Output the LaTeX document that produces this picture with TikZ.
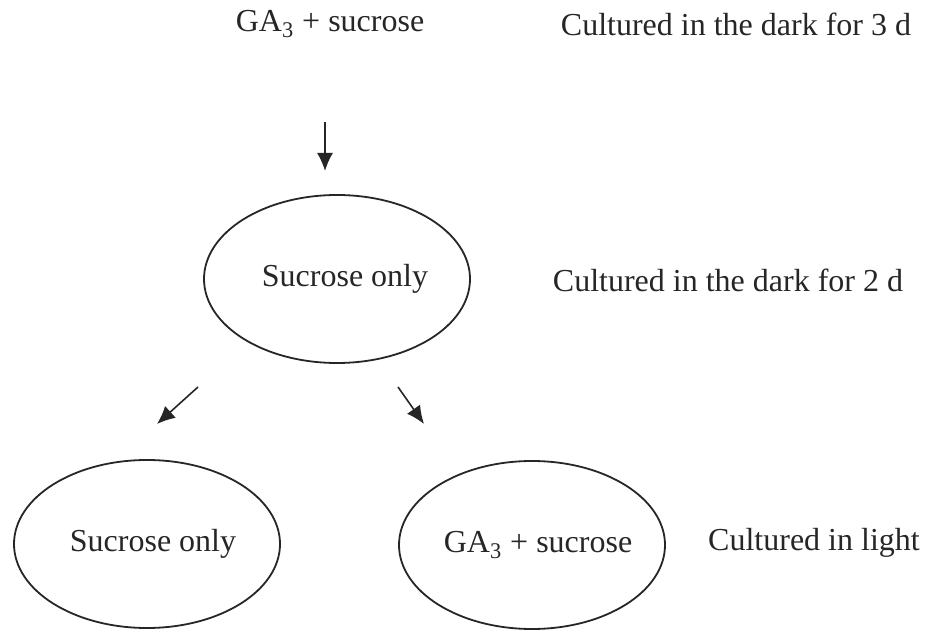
\documentclass[tikz,border=0pt]{standalone}
\usepackage{fontspec}
\setmainfont{Liberation Serif}
\usetikzlibrary{arrows.meta,shapes.geometric,positioning}
\definecolor{cuink}{RGB}{38,38,38}
\tikzset{
  cutext/.style={text=cuink, inner sep=2pt},
  cuoval/.style={draw=cuink, line width=.9pt, ellipse, inner sep=0pt, minimum width=133pt, minimum height=84pt, text=cuink},
  cuarr/.style={-{Latex[length=9pt,width=8pt]}, line width=.8pt, draw=cuink}
}
\newcommand{\cuGA}{GA\textsubscript{3} + sucrose}
% text set a little right of the oval's centre
\newcommand{\cuin}[2]{\makebox[0pt]{\hspace*{#1}#2}}

\begin{document}
\begin{tikzpicture}[font=\fontsize{16}{19}\selectfont, x=.5pt, y=-.5pt]
  \useasboundingbox (0,0) rectangle (932,630);
  % media and culture conditions
  \node[cutext] (start) at (330,24) {\cuGA};
  \node[cutext] (dark3) at (736,24) {Cultured in the dark for 3 d};
  \node[cuoval] (mid) at (337,279) {\cuin{8pt}{Sucrose only}};
  \node[cutext] (dark2) at (728,280) {Cultured in the dark for 2 d};
  \node[cuoval] (left) at (147,544) {\cuin{6pt}{Sucrose only}};
  \node[cuoval] (right) at (532,545) {\cuin{6pt}{\cuGA}};
  \node[cutext] (light) at (814,543) {Cultured in light};
  % transfer arrows
  \coordinate (down1) at (325,122);
  \coordinate (down2) at (325,171);
  \coordinate (sl1) at (198,387);
  \coordinate (sl2) at (157,424);
  \coordinate (sr1) at (398,387);
  \coordinate (sr2) at (424,424);
  \draw[cuarr] (down1) -- (down2);
  \draw[cuarr] (sl1) -- (sl2);
  \draw[cuarr] (sr1) -- (sr2);
\end{tikzpicture}
\end{document}
